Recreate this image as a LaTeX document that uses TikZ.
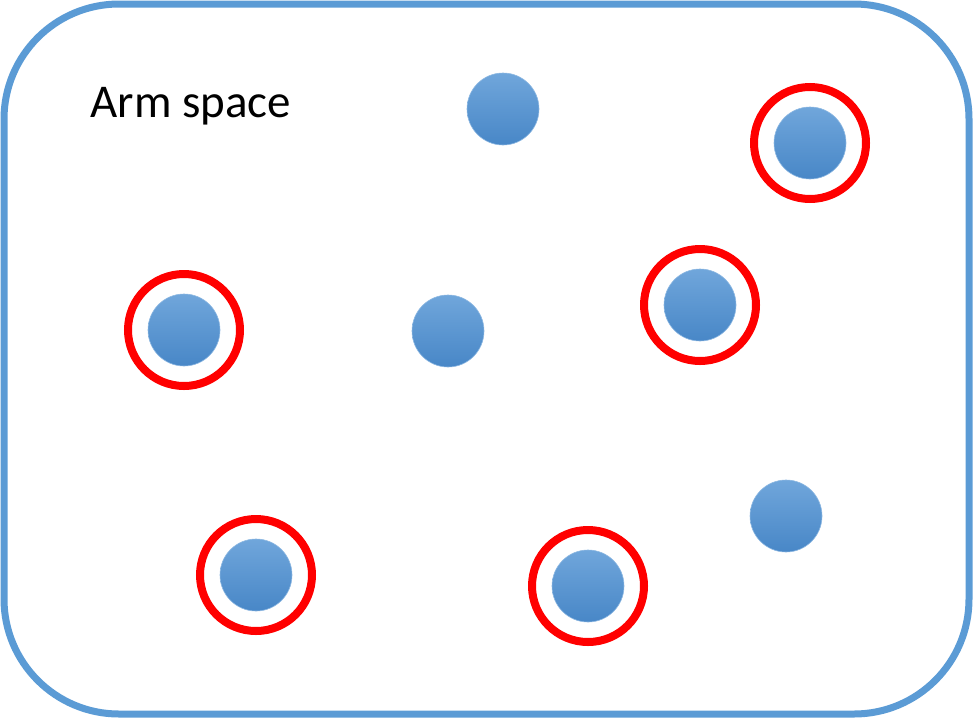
\documentclass[tikz,border=0pt]{standalone}
\usepackage{fontspec}
\setmainfont{Carlito}
\usepackage{tikz}
\usetikzlibrary{positioning}

\definecolor{armblue}{HTML}{5B9BD5}
\definecolor{dottop}{HTML}{70A6DB}
\definecolor{dotbot}{HTML}{4887C7}

\begin{document}
\begin{tikzpicture}[
  x=1pt,y=-1pt,
  frame/.style={draw=armblue,line width=7pt,rounded corners=115pt},
  dot/.style={circle,minimum size=72pt,inner sep=0pt,top color=dottop,bottom color=dotbot,draw=dottop!80!white,line width=0.6pt},
  ring/.style={circle,minimum size=112pt,inner sep=0pt,draw=red,line width=8pt}]
\useasboundingbox (0,0) rectangle (973,718);
\draw[frame] (4,4) rectangle (969,714);
\node[anchor=base west,font=\fontsize{47}{51}\selectfont] (lbl) at (87,117) {Arm space};
% points in the arm space
\foreach \n/\px/\py in {p1/503/109,p2/810/143,p3/184/330,p4/448/331,p5/700/305,p6/786/516,p7/256/575,p8/588/586}
  \node[dot] (\n) at (\px,\py) {};
% selected points
\foreach \n in {p2,p3,p5,p7,p8}
  \node[ring] (r\n) at (\n) {};
\end{tikzpicture}
\end{document}
